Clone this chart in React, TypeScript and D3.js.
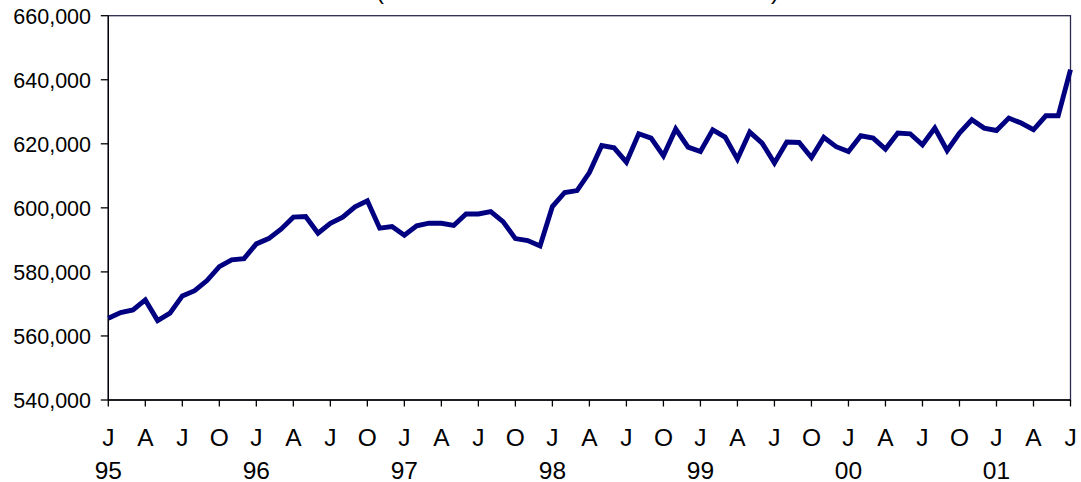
import React from "react";
import * as d3 from "d3";

const values: number[] = [
  565500, 567300, 568100, 571250, 564800, 567100, 572500, 574150, 577300, 581650, 583750, 584150,
  588750, 590400, 593350, 597100, 597300, 592100, 595200, 597100, 600300, 602200, 593650, 594150,
  591450, 594400, 595200, 595200, 594500, 598100, 598100, 598850, 595700, 590400, 589800, 588100,
  600400, 604800, 605400, 611000, 619470, 618750, 614280, 623130, 621780, 616250, 624600, 618970,
  617600, 624380, 622100, 615220, 623660, 620220, 613970, 620530, 620400, 615720, 622000, 619100,
  617600, 622500, 621780, 618340, 623340, 623130, 619690, 624900, 617900, 623340, 627500, 624900,
  624160, 628030, 626470, 624380, 628750, 628750, 643130,
];
const quarterLetters = ["J", "A", "J", "O"];
const yearLabels = ["95", "96", "97", "98", "99", "00", "01"];
const yTicks = [540000, 560000, 580000, 600000, 620000, 640000, 660000];

const W = 1081;
const H = 482;
const left = 108.3;
const right = 1070.5;
const top = 15.7;
const bottom = 400;

export default function App() {
  const x = d3.scaleLinear().domain([0, values.length - 1]).range([left, right]);
  const y = d3.scaleLinear().domain([540000, 660000]).range([bottom, top]);
  const line = d3
    .line<number>()
    .x((_, i) => x(i))
    .y((d) => y(d));
  const fmt = d3.format(",");
  const quarterIdx = d3.range(0, values.length, 3);
  const font = "'Liberation Sans', Arial, sans-serif";

  return (
    <svg
      width={W}
      height={H}
      style={{ position: "absolute", left: 0, top: 0, display: "block", background: "#fff" }}
    >
      <text x={376} y={-1} fontFamily={font} fontSize={24} fill="#000">(</text>
      <text x={771} y={-1} fontFamily={font} fontSize={24} fill="#000">)</text>
      <rect x={left} y={top} width={right - left} height={bottom - top} fill="none" stroke="#2a2a50" strokeWidth={1.3} />
      <line x1={left} x2={left} y1={top} y2={bottom} stroke="#000" strokeWidth={1.3} />
      <line x1={left} x2={right} y1={bottom} y2={bottom} stroke="#000" strokeWidth={1.3} />
      {yTicks.map((t) => (
        <g key={t}>
          <line x1={left - 7.5} x2={left} y1={y(t)} y2={y(t)} stroke="#000" strokeWidth={1.3} />
          <text x={91} y={y(t) + 8.2} textAnchor="end" fontFamily={font} fontSize={21.5} fill="#000">
            {fmt(t)}
          </text>
        </g>
      ))}
      {quarterIdx.map((i, k) => (
        <g key={i}>
          <line x1={x(i)} x2={x(i)} y1={bottom} y2={bottom + 6.5} stroke="#000" strokeWidth={1.3} />
          <text x={x(i)} y={446} textAnchor="middle" fontFamily={font} fontSize={24.5} fill="#000">
            {quarterLetters[k % 4]}
          </text>
          {k % 4 === 0 && (
            <text x={x(i)} y={479} textAnchor="middle" fontFamily={font} fontSize={24.5} fill="#000">
              {yearLabels[k / 4]}
            </text>
          )}
        </g>
      ))}
      <path d={line(values) || ""} fill="none" stroke="#000080" strokeWidth={4.9} strokeLinejoin="miter" />
    </svg>
  );
}
